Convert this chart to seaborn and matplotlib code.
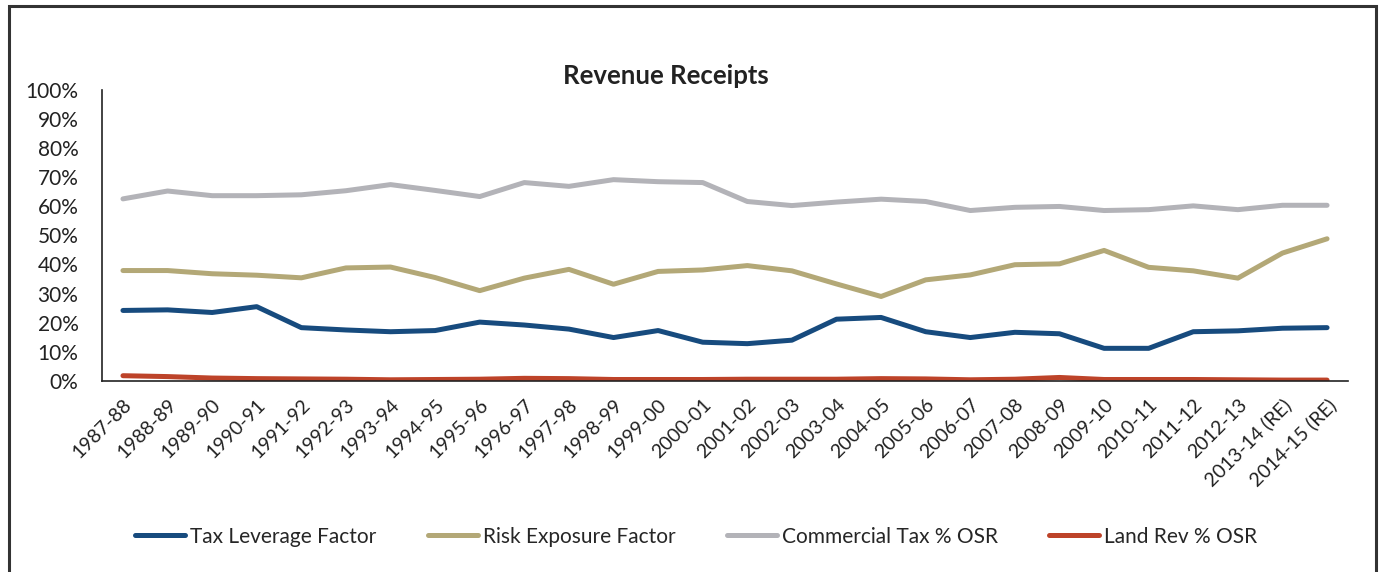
import matplotlib

matplotlib.use("Agg")
import matplotlib.pyplot as plt
import numpy as np
import pandas as pd
import seaborn as sns
from matplotlib.patches import Rectangle
from matplotlib.ticker import PercentFormatter

# --------------------------------------------------------------------- #
# Data (in %)
# --------------------------------------------------------------------- #
YEARS = ["1987-88", "1988-89", "1989-90", "1990-91", "1991-92", "1992-93",
         "1993-94", "1994-95", "1995-96", "1996-97", "1997-98", "1998-99",
         "1999-00", "2000-01", "2001-02", "2002-03", "2003-04", "2004-05",
         "2005-06", "2006-07", "2007-08", "2008-09", "2009-10", "2010-11",
         "2011-12", "2012-13", "2013-14 (RE)", "2014-15 (RE)"]

TAX_LEVERAGE = [24.2, 24.4, 23.5, 25.5, 18.3, 17.5, 16.9, 17.3, 20.2, 19.2,
                17.8, 14.9, 17.3, 13.3, 12.8, 14.0, 21.2, 21.8, 16.9, 14.9,
                16.7, 16.2, 11.2, 11.2, 16.9, 17.2, 18.1, 18.3]
RISK_EXPOSURE = [37.9, 37.9, 36.8, 36.3, 35.4, 38.8, 39.1, 35.5, 31.0, 35.3,
                 38.3, 33.2, 37.6, 38.1, 39.6, 37.8, 33.3, 29.0, 34.7, 36.4,
                 39.9, 40.2, 44.8, 39.0, 37.8, 35.3, 43.9, 48.8]
COMMERCIAL_TAX = [62.5, 65.2, 63.6, 63.6, 63.9, 65.3, 67.4, 65.4, 63.3, 68.1,
                  66.8, 69.1, 68.4, 68.1, 61.6, 60.2, 61.4, 62.4, 61.6, 58.5,
                  59.6, 59.9, 58.5, 58.8, 60.1, 58.8, 60.3, 60.3]
LAND_REV = [1.8, 1.5, 1.0, 0.8, 0.7, 0.6, 0.4, 0.5, 0.6, 0.9,
            0.8, 0.5, 0.5, 0.5, 0.6, 0.6, 0.6, 0.8, 0.7, 0.4,
            0.6, 1.2, 0.5, 0.5, 0.5, 0.4, 0.3, 0.3]

SERIES = ["Tax Leverage Factor", "Risk Exposure Factor",
          "Commercial Tax % OSR", "Land Rev % OSR"]
COLORS = ["#174B7E", "#B3A877", "#B3B3B8", "#BD4329"]

sns.set_style("white")
plt.rcParams["font.family"] = ["Lato", "DejaVu Sans"]

df = pd.DataFrame({
    "idx": np.tile(np.arange(len(YEARS)), 4),
    "value": TAX_LEVERAGE + RISK_EXPOSURE + COMMERCIAL_TAX + LAND_REV,
    "series": np.repeat(SERIES, len(YEARS)),
})

fig = plt.figure(figsize=(13.84, 5.72), dpi=100)
ax = fig.add_axes([0.0737, 0.334, 0.9003, 0.5093])

sns.lineplot(data=df, x="idx", y="value", hue="series", hue_order=SERIES,
             palette=COLORS, linewidth=3.6, ax=ax, legend=False,
             solid_capstyle="round")

ax.set_xlim(-0.47, len(YEARS) - 0.53)
ax.set_ylim(0, 100)
ax.set_yticks(np.arange(0, 101, 10))
ax.yaxis.set_major_formatter(PercentFormatter(decimals=0))
ax.set_xticks(np.arange(len(YEARS)))
ax.set_xticklabels(YEARS, rotation=45, ha="right", rotation_mode="anchor")
ax.tick_params(axis="both", length=0, colors="#222222")
ax.tick_params(axis="x", pad=11, labelsize=14)
ax.tick_params(axis="y", pad=17, labelsize=15)
ax.set_xlabel(""); ax.set_ylabel("")
for s in ["top", "right"]:
    ax.spines[s].set_visible(False)
for s in ["left", "bottom"]:
    ax.spines[s].set_color("#222222")
    ax.spines[s].set_linewidth(1.2)
ax.set_zorder(2)

fig.text(0.481, 0.868, "Revenue Receipts", ha="center", va="center",
         fontsize=18.5, fontweight="bold", color="#222222")

handles = [plt.Line2D([], [], color=c, lw=3.6, solid_capstyle="round")
           for c in COLORS]
fig.legend(handles, SERIES, loc="center", bbox_to_anchor=(0.503, 0.062),
           ncol=4, frameon=False, fontsize=15, handlelength=2.4,
           handletextpad=0.25, columnspacing=2.45)

fig.patches.append(Rectangle((9 / 1384, -0.1), (1376 - 9) / 1384, 1.1 - 6 / 572,
                             transform=fig.transFigure, fill=False,
                             edgecolor="#333333", linewidth=2.2))

fig.savefig("out.png", dpi=100)
